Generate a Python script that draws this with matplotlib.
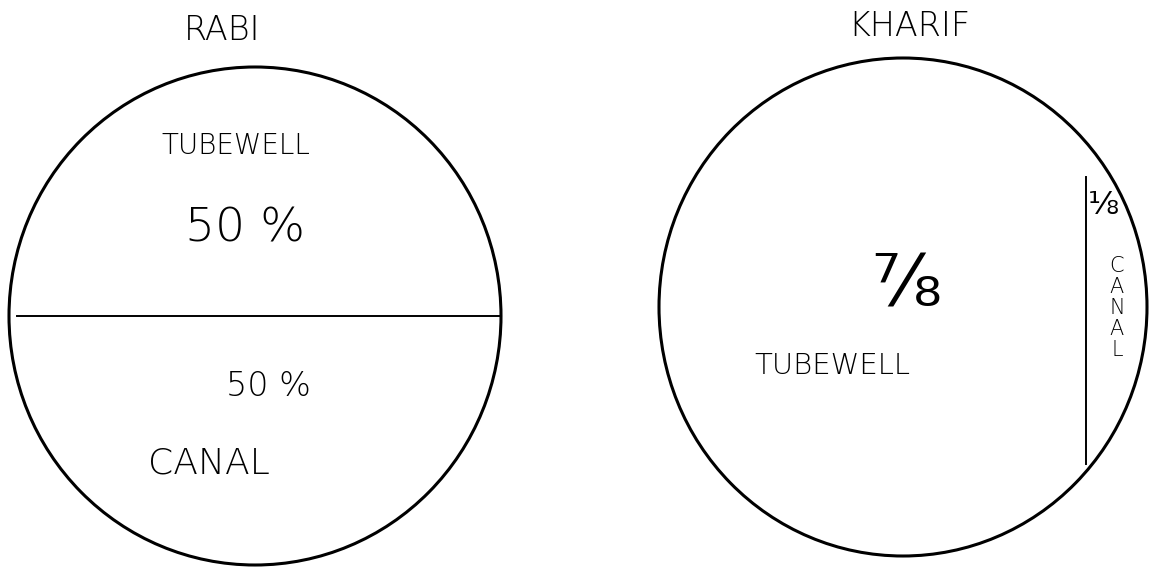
import matplotlib.pyplot as plt
from matplotlib.patches import Ellipse
import numpy as np

# data
seasons = ['RABI', 'KHARIF']
sources = ['TUBEWELL', 'CANAL']
tubewell_share = [0.5, 7 / 8]
canal_share = [0.5, 1 / 8]
tubewell_labels = ['50 %', '⅞']
canal_labels = ['50 %', '⅛']

# layout (pixel units, y downwards)
centers = [(255, 316), (903, 307)]
widths = [492, 488]
heights = [498, 498]
# the canal part sits at the bottom for rabi, at the right for kharif
split_dir = ['horizontal', 'vertical']

fig = plt.figure(figsize=(11.49, 5.67), dpi=100)
ax = fig.add_axes([0, 0, 1, 1])
ax.set_xlim(0, 1149)
ax.set_ylim(567, 0)
ax.axis('off')

for i in range(2):
    cx, cy = centers[i]
    rx, ry = widths[i] / 2, heights[i] / 2
    ax.add_patch(Ellipse((cx, cy), widths[i], heights[i], fill=False,
                         edgecolor='black', linewidth=2.2))
    f = canal_share[i]
    if split_dir[i] == 'horizontal':
        # chord placed at fraction of the diameter
        y = cy + ry * (1 - 2 * f)
        half = rx * np.sqrt(1 - ((y - cy) / ry) ** 2)
        ax.plot([cx - half + 8, cx + half], [y, y], color='black', lw=1.4)
    else:
        x = cx + rx * (1 - 2 * f)
        half = ry * np.sqrt(1 - ((x - cx) / rx) ** 2)
        ax.plot([x, x], [cy - half + 35, cy + half - 8], color='black', lw=1.4)

txt = dict(color='black', ha='center', va='center', family='DejaVu Sans',
           fontweight='light')
# the light face has no fraction glyphs
frac = dict(color='black', ha='center', va='center',
            family=['DejaVu Sans'], fontweight='normal')

# rabi
ax.text(222, 30, seasons[0], fontsize=24, **txt)
ax.text(236, 146, sources[0], fontsize=20, **txt)
ax.text(245, 228, tubewell_labels[0], fontsize=34, **txt)
ax.text(268, 386, canal_labels[0], fontsize=24, **txt)
ax.text(209, 463, sources[1], fontsize=26, **txt)

# kharif
ax.text(909, 27, seasons[1], fontsize=24, **txt)
ax.text(906, 286, tubewell_labels[1], fontsize=52, **frac)
ax.text(832, 366, sources[0], fontsize=21, **txt)
ax.text(1103, 206, canal_labels[1], fontsize=23, **frac)
ax.text(1117, 308, '\n'.join(sources[1]), fontsize=15, linespacing=1.05, **txt)

plt.savefig('out.png', dpi=100)
